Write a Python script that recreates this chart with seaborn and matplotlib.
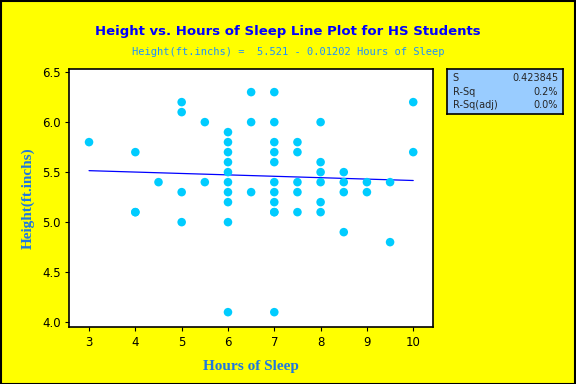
import matplotlib
matplotlib.use("Agg")
import matplotlib.pyplot as plt
import pandas as pd
import seaborn as sns

# values
hours = [
    3,
    4, 4, 4,
    4.5,
    5, 5, 5, 5,
    5.5, 5.5,
    6, 6, 6, 6, 6, 6, 6, 6, 6, 6,
    6.5, 6.5, 6.5,
    7, 7, 7, 7, 7, 7, 7, 7, 7, 7, 7,
    7.5, 7.5, 7.5, 7.5, 7.5,
    8, 8, 8, 8, 8, 8,
    8.5, 8.5, 8.5, 8.5,
    9, 9,
    9.5, 9.5,
    10, 10,
]
height = [
    5.8,
    5.7, 5.1, 5.1,
    5.4,
    6.2, 6.1, 5.3, 5.0,
    6.0, 5.4,
    5.9, 5.8, 5.7, 5.6, 5.5, 5.4, 5.3, 5.2, 5.0, 4.1,
    6.3, 6.0, 5.3,
    6.3, 6.0, 5.8, 5.7, 5.6, 5.4, 5.3, 5.2, 5.1, 5.1, 4.1,
    5.8, 5.7, 5.4, 5.3, 5.1,
    6.0, 5.6, 5.5, 5.4, 5.2, 5.1,
    5.5, 5.4, 5.3, 4.9,
    5.4, 5.3,
    5.4, 4.8,
    6.2, 5.7,
]
x_ticks = [3, 4, 5, 6, 7, 8, 9, 10]
y_ticks = [4.0, 4.5, 5.0, 5.5, 6.0, 6.5]
stat_names = ["S", "R-Sq", "R-Sq(adj)"]
stat_values = ["0.423845", "0.2%", "0.0%"]

df = pd.DataFrame({"Hours of Sleep": hours, "Height": height})

sns.set_style("white")
fig = plt.figure(figsize=(5.76, 3.84), dpi=100, facecolor="#FFFF00")
ax = fig.add_axes([0.12, 0.148, 0.632, 0.672])
ax.set_facecolor("white")

sns.regplot(data=df, x="Hours of Sleep", y="Height", scatter=False, ci=None,
            truncate=True, line_kws={"color": "#0000FF", "lw": 0.9}, ax=ax)
sns.scatterplot(data=df, x="Hours of Sleep", y="Height", color="#00CCFF",
                s=38, edgecolor="none", ax=ax, zorder=3)

ax.set_xlim(2.57, 10.43)
ax.set_ylim(3.95, 6.53)
ax.set_xticks(x_ticks)
ax.set_yticks(y_ticks)
ax.set_yticklabels([f"{v:.1f}" for v in y_ticks])
ax.tick_params(direction="out", length=3, width=0.8, labelsize=8.5,
               colors="black", left=True, bottom=True, pad=3)
for s in ax.spines.values():
    s.set_color("black")
    s.set_linewidth(1.2)

label_font = {"family": "Liberation Serif", "weight": "bold", "size": 11}
ax.set_xlabel("Hours of Sleep", color="#1E78E0", fontdict=label_font, labelpad=8)
ax.set_ylabel("Height(ft.inchs)", color="#1E78E0", fontdict=label_font, labelpad=5)

fig.text(0.5, 0.917, "Height vs. Hours of Sleep Line Plot for HS Students",
         ha="center", va="center", color="#0000FF", fontsize=9.5,
         fontweight="bold", family="DejaVu Sans")
fig.text(0.5, 0.865, "Height(ft.inchs) =  5.521 - 0.01202 Hours of Sleep",
         ha="center", va="center", color="#1E90FF", fontsize=7.5,
         family="DejaVu Sans Mono")

# summary box
box = fig.add_axes([0.776, 0.703, 0.201, 0.117])
box.set_facecolor("#99CCFF")
box.set_xticks([])
box.set_yticks([])
for s in box.spines.values():
    s.set_color("black")
    s.set_linewidth(1.2)
for i, (name, val) in enumerate(zip(stat_names, stat_values)):
    yy = 0.8 - i * 0.3
    box.text(0.05, yy, name, ha="left", va="center", fontsize=7, transform=box.transAxes)
    box.text(0.96, yy, val, ha="right", va="center", fontsize=7, transform=box.transAxes)

# black outer frame
fig.patches.append(plt.Rectangle((0.001, 0.001), 0.997, 0.996, transform=fig.transFigure,
                                 fill=False, edgecolor="black", lw=1.5))

fig.savefig("out.png", dpi=100, facecolor=fig.get_facecolor())
